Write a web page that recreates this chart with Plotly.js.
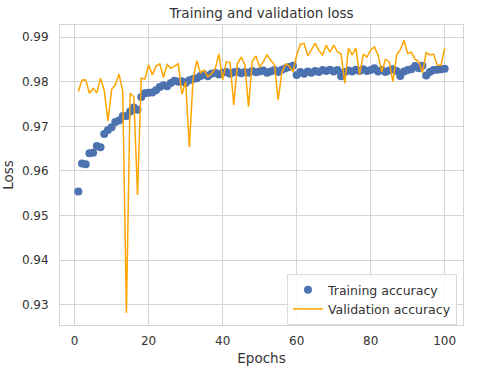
<!DOCTYPE html>
<html>
<head>
<meta charset="utf-8">
<script src="https://cdn.plot.ly/plotly-3.0.1.min.js"></script>
<style>
  html, body { margin: 0; padding: 0; background: #fff; }
  #graph { width: 480px; height: 370px; }
</style>
</head>
<body>
<div id="graph"></div>
<script>
// values (epochs 1..100)
var trainAcc = [
  0.9554, 0.9617, 0.9615, 0.9640, 0.9641, 0.9656, 0.9653, 0.9683, 0.9692, 0.9698,
  0.9710, 0.9713, 0.9723, 0.9723, 0.9733, 0.9742, 0.9737, 0.9766, 0.9774, 0.9775,
  0.9776, 0.9781, 0.9788, 0.9792, 0.9790, 0.9797, 0.9802, 0.9800, 0.9801, 0.9797,
  0.9803, 0.9806, 0.9808, 0.9813, 0.9816, 0.9812, 0.9818, 0.9820, 0.9816, 0.9820,
  0.9822, 0.9818, 0.9821, 0.9823, 0.9819, 0.9822, 0.9820, 0.9824, 0.9821, 0.9823,
  0.9825, 0.9820, 0.9823, 0.9826, 0.9822, 0.9827, 0.9830, 0.9833, 0.9836, 0.9815,
  0.9822, 0.9818, 0.9823, 0.9820, 0.9824, 0.9822, 0.9826, 0.9824, 0.9827, 0.9823,
  0.9826, 0.9812, 0.9822, 0.9825, 0.9823, 0.9827, 0.9824, 0.9828, 0.9824, 0.9826,
  0.9830, 0.9823, 0.9826, 0.9822, 0.9825, 0.9828, 0.9824, 0.9813, 0.9823, 0.9826,
  0.9828, 0.9835, 0.9830, 0.9836, 0.9814, 0.9822, 0.9826, 0.9827, 0.9828, 0.9829
];
var valAcc = [
  0.9778, 0.9804, 0.9804, 0.9774, 0.9785, 0.9775, 0.9808, 0.9781, 0.9712, 0.9783,
  0.9793, 0.9817, 0.9778, 0.9282, 0.9774, 0.9766, 0.9546, 0.9808, 0.9806, 0.9838,
  0.9815, 0.9835, 0.9840, 0.9810, 0.9838, 0.9830, 0.9835, 0.9840, 0.9772, 0.9800,
  0.9653, 0.9805, 0.9847, 0.9820, 0.9826, 0.9811, 0.9818, 0.9829, 0.9862, 0.9804,
  0.9845, 0.9843, 0.9748, 0.9840, 0.9855, 0.9838, 0.9744, 0.9845, 0.9858, 0.9832,
  0.9845, 0.9860, 0.9848, 0.9838, 0.9759, 0.9820, 0.9840, 0.9835, 0.9822, 0.9860,
  0.9884, 0.9886, 0.9858, 0.9872, 0.9886, 0.9870, 0.9860, 0.9882, 0.9866, 0.9882,
  0.9867, 0.9862, 0.9796, 0.9875, 0.9860, 0.9875, 0.9815, 0.9862, 0.9855, 0.9871,
  0.9878, 0.9860, 0.9822, 0.9850, 0.9845, 0.9800, 0.9860, 0.9871, 0.9893, 0.9863,
  0.9866, 0.9850, 0.9845, 0.9820, 0.9865, 0.9860, 0.9862, 0.9837, 0.9837, 0.9875
];
var epochs = [];
for (var i = 0; i < trainAcc.length; i++) epochs.push(i + 1);

var xTicks = [0, 20, 40, 60, 80, 100];
var yTicks = [0.93, 0.94, 0.95, 0.96, 0.97, 0.98, 0.99];

var textCol = '#333333';
var gridCol = '#d5d5d5';

var data = [
  {
    x: epochs, y: trainAcc,
    type: 'scatter', mode: 'markers',
    name: 'Training accuracy',
    marker: { color: '#4c72b0', size: 8 }
  },
  {
    x: epochs, y: valAcc,
    type: 'scatter', mode: 'lines',
    name: 'Validation accuracy',
    line: { color: '#ffa500', width: 1.5 }
  }
];

var layout = {
  width: 480, height: 370,
  margin: { l: 60, r: 17, t: 25, b: 45 },
  paper_bgcolor: '#ffffff',
  plot_bgcolor: '#ffffff',
  font: { family: 'DejaVu Sans', size: 12, color: textCol },
  title: {
    text: 'Training and validation loss',
    font: { size: 13.5, color: textCol },
    x: 0.545, xanchor: 'center', y: 0.963, yanchor: 'middle'
  },
  xaxis: {
    range: [-3.95, 104.95],
    tickvals: xTicks,
    ticktext: xTicks.map(String),
    showgrid: true, gridcolor: gridCol, gridwidth: 1,
    zeroline: false,
    showline: true, linecolor: gridCol, linewidth: 1, mirror: true,
    ticks: '', ticklabelstandoff: 5,
    tickfont: { size: 12, color: textCol },
    title: { text: 'Epochs', font: { size: 13.5, color: textCol }, standoff: 6 }
  },
  yaxis: {
    range: [0.9255, 0.9927],
    tickvals: yTicks,
    ticktext: yTicks.map(function (v) { return v.toFixed(2); }),
    showgrid: true, gridcolor: gridCol, gridwidth: 1,
    zeroline: false,
    showline: true, linecolor: gridCol, linewidth: 1, mirror: true,
    ticks: '', ticklabelstandoff: 8,
    tickfont: { size: 12, color: textCol },
    title: { text: 'Loss', font: { size: 13.5, color: textCol }, standoff: 5 }
  },
  legend: {
    x: 0.985, y: 0.0, xanchor: 'right', yanchor: 'bottom',
    bgcolor: 'rgba(255,255,255,0.85)',
    bordercolor: '#dddddd', borderwidth: 1,
    font: { size: 12.5, color: textCol },
    tracegroupgap: 0
  },
  showlegend: true
};

Plotly.newPlot('graph', data, layout, { displayModeBar: false, staticPlot: true });
</script>
</body>
</html>
